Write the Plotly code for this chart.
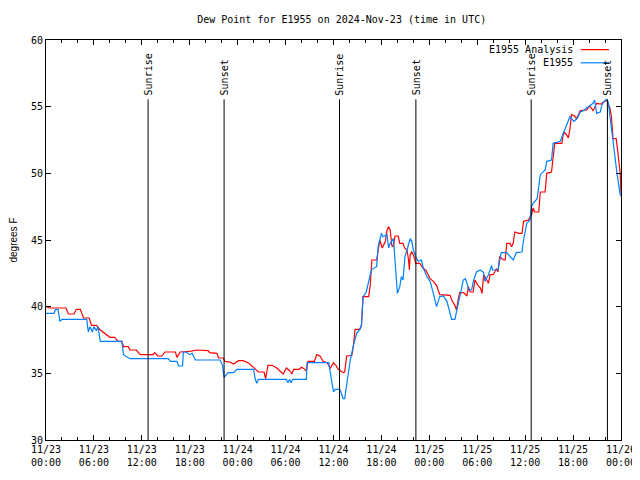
import pandas as pd
import plotly.graph_objects as go

BASE = pd.Timestamp("2024-11-23 00:00")

# Analysis series (hours since 11/23 00:00 UTC, dew point F)
analysis_hours = [0.0, 0.5, 1.5, 2.5, 2.8, 3.5, 3.8, 4.3, 4.7, 5.4, 5.7, 6.3, 6.8, 7.3, 7.6, 8.0, 8.6, 9.0, 9.5, 9.7,
                  10.3, 10.5, 11.3, 11.8, 13.4, 13.6, 14.0, 14.5, 14.9, 16.2, 16.4, 16.8, 18.0, 18.9, 20.3, 20.5,
                  21.4, 21.6, 22.2, 22.4, 23.0, 23.5, 24.1, 24.7, 25.4, 26.0, 26.6, 27.3, 27.5, 27.8, 28.3, 28.9,
                  29.7, 30.1, 30.5, 30.8, 31.0, 31.7, 32.0, 32.3, 32.6, 32.8, 33.6, 33.9, 34.3, 34.7, 35.2, 35.6,
                  36.0, 36.3, 36.6, 37.2, 37.4, 37.65, 38.3, 38.5, 38.7, 39.3, 39.5, 39.7, 40.4, 40.6, 40.8, 41.4,
                  41.6, 41.8, 42.1, 42.5, 42.7, 42.9, 43.1, 43.3, 43.5, 43.7, 44.1, 44.3, 44.7, 44.9, 45.2, 45.4,
                  45.5, 45.6, 45.8, 46.0, 46.3, 46.8, 47.2, 47.6, 48.1, 48.5, 48.9, 49.3, 50.6, 50.8, 51.2, 51.4,
                  51.6, 51.8, 52.3, 52.7, 52.9, 53.1, 53.5, 53.7, 54.1, 54.4, 54.6, 54.8, 55.2, 55.4, 55.6, 56.0,
                  56.4, 56.6, 56.8, 57.3, 57.5, 57.7, 58.1, 58.3, 58.5, 58.7, 59.2, 59.6, 59.8, 60.4, 60.6, 60.8,
                  61.0, 61.2, 61.7, 61.9, 62.5, 62.7, 63.3, 63.5, 63.7, 64.6, 64.8, 65.2, 65.4, 65.6, 65.8, 66.2,
                  66.4, 66.6, 66.9, 67.7, 68.1, 68.5, 68.95, 69.5, 69.9, 70.2, 70.6, 70.8, 71.0, 71.4, 71.6, 71.9,
                  72.0]
analysis_values = [40.0, 39.9, 39.9, 39.9, 39.45, 39.45, 39.8, 39.8, 39.15, 39.15, 38.6, 38.6, 38.25, 38.0, 37.9, 37.7,
                   37.7, 37.4, 37.4, 37.0, 37.0, 36.75, 36.75, 36.4, 36.4, 36.55, 36.3, 36.3, 36.6, 36.6, 36.2, 36.6,
                   36.65, 36.75, 36.7, 36.55, 36.5, 36.15, 36.15, 35.9, 35.85, 35.7, 35.95, 35.95, 35.75, 35.4, 35.1,
                   35.1, 34.6, 35.6, 35.6, 35.4, 34.95, 35.4, 35.2, 34.95, 35.3, 35.3, 35.45, 35.35, 35.2, 35.9, 35.9,
                   36.4, 36.3, 35.9, 35.8, 35.4, 35.8, 35.6, 35.3, 35.05, 35.1, 36.3, 36.35, 37.1, 38.3, 38.3, 38.6,
                   40.75, 40.75, 41.6, 43.5, 43.5, 44.4, 45.0, 44.4, 44.9, 45.75, 46.0, 45.75, 44.6, 44.5, 45.3, 45.3,
                   44.75, 44.75, 44.4, 44.25, 43.5, 42.75, 43.9, 44.1, 43.9, 43.25, 43.25, 42.9, 42.7, 42.1, 41.9,
                   41.6, 40.9, 40.85, 40.5, 40.1, 39.75, 40.5, 41.05, 41.05, 40.8, 41.5, 41.1, 41.1, 42.0, 41.6, 41.4,
                   41.0, 42.4, 42.0, 41.75, 42.4, 42.4, 42.85, 42.6, 43.75, 43.5, 43.5, 44.75, 44.75, 44.5, 44.75,
                   45.6, 45.5, 45.5, 46.4, 46.5, 46.7, 46.9, 47.4, 47.1, 47.1, 48.6, 48.6, 50.0, 50.1, 51.25, 52.25,
                   52.25, 53.1, 52.9, 52.65, 53.3, 54.4, 54.3, 54.1, 54.3, 54.7, 54.75, 55.05, 54.7, 55.25, 55.2,
                   55.4, 55.5, 54.9, 54.25, 52.6, 52.6, 51.6, 50.0, 48.5]

# Observed series
obs_hours = [0.0, 1.0, 1.2, 1.5, 1.75, 2.0, 5.1, 5.3, 5.5, 5.8, 6.0, 6.3, 6.5, 6.8, 9.5, 9.7, 10.5, 15.3, 15.6, 16.4,
             16.6, 17.1, 17.2, 17.5, 18.0, 18.3, 18.7, 21.8, 22.1, 22.3, 22.8, 23.5, 23.9, 26.0, 26.2, 26.4, 26.6,
             30.1, 30.3, 30.5, 30.7, 30.9, 32.6, 32.7, 35.4, 35.6, 36.0, 36.2, 36.8, 37.1, 37.2, 37.4, 37.65, 38.1,
             38.5, 38.9, 39.3, 39.5, 39.7, 40.1, 40.6, 40.8, 41.4, 41.6, 42.0, 42.2, 42.7, 42.9, 43.1, 43.5, 43.7,
             43.9, 44.0, 44.3, 44.5, 44.7, 44.95, 45.2, 45.6, 45.8, 46.0, 46.3, 46.6, 47.0, 47.25, 47.7, 48.1, 48.5,
             48.9, 49.3, 49.75, 50.2, 50.6, 50.8, 51.2, 51.4, 51.85, 52.25, 52.5, 52.7, 52.9, 53.3, 53.5, 53.9,
             54.35, 54.76, 54.97, 55.4, 55.8, 55.9, 56.6, 56.8, 57.0, 57.7, 57.9, 58.5, 58.9, 59.6, 59.8, 60.2,
             60.6, 60.8, 61.0, 61.5, 61.7, 61.9, 62.5, 62.7, 63.3, 63.5, 64.4, 64.8, 65.2, 65.6, 66.1, 66.5, 66.9,
             67.3, 67.7, 68.5, 68.7, 68.95, 69.4, 69.6, 69.8, 70.2, 70.4, 70.8, 71.2, 71.5, 71.9, 72.0]
obs_values = [39.5, 39.5, 39.8, 39.8, 38.9, 39.05, 39.05, 38.1, 38.5, 38.1, 38.5, 38.2, 38.5, 37.4, 37.4, 36.4, 36.1,
              36.1, 35.9, 35.9, 35.55, 35.55, 36.6, 36.6, 36.4, 36.5, 36.0, 36.0, 35.6, 34.7, 35.05, 35.05, 35.3,
              35.3, 34.55, 34.25, 34.55, 34.55, 34.3, 34.55, 34.3, 34.55, 34.55, 35.8, 35.8, 35.1, 33.6, 33.8, 33.8,
              33.3, 33.1, 33.1, 34.1, 36.0, 37.1, 38.0, 38.3, 38.6, 40.75, 41.1, 42.4, 42.8, 43.0, 44.55, 45.5,
              45.25, 45.4, 44.4, 44.75, 45.1, 43.5, 42.0, 41.0, 41.5, 42.25, 42.0, 43.75, 44.25, 45.1, 44.9, 44.25,
              43.75, 43.4, 43.5, 42.9, 42.25, 41.9, 41.0, 40.0, 40.75, 40.8, 40.4, 39.5, 39.05, 39.05, 39.6, 40.9,
              42.0, 42.1, 41.8, 41.25, 41.25, 41.9, 42.6, 42.75, 42.6, 41.9, 42.4, 43.1, 42.75, 42.75, 43.6, 44.05,
              44.05, 43.9, 43.5, 44.05, 44.1, 45.0, 46.25, 46.5, 47.5, 47.75, 48.1, 49.0, 49.9, 50.25, 50.9, 51.0,
              52.25, 52.4, 53.0, 53.75, 54.25, 53.9, 54.1, 54.6, 54.7, 54.9, 55.25, 55.5, 54.5, 54.6, 55.1, 55.35,
              55.55, 55.35, 53.25, 51.25, 50.0, 48.4, 48.3]

sun_events = ["Sunrise", "Sunset", "Sunrise", "Sunset", "Sunrise", "Sunset"]
sun_times = ["2024-11-23 12:47", "2024-11-23 22:18", "2024-11-24 12:45",
             "2024-11-24 22:19", "2024-11-25 12:45", "2024-11-25 22:18"]

legend_names = ["E1955 Analysis", "E1955"]
colors = ["#ff0000", "#0080ff"]

def to_time(hours):
    return BASE + pd.to_timedelta(hours, unit="h")

MONO = "DejaVu Sans Mono"

fig = go.Figure()
fig.add_trace(go.Scatter(x=to_time(analysis_hours), y=analysis_values, mode="lines",
                         line=dict(color=colors[0], width=1.2), name=legend_names[0]))
fig.add_trace(go.Scatter(x=to_time(obs_hours), y=obs_values, mode="lines",
                         line=dict(color=colors[1], width=1.2), name=legend_names[1]))

for ev, t in zip(sun_events, sun_times):
    fig.add_shape(type="line", xref="x", yref="y", x0=t, x1=t, y0=30, y1=55.55,
                  line=dict(color="black", width=1))
    fig.add_annotation(x=t, y=55.7, xref="x", yref="y", text=ev, textangle=-90,
                       showarrow=False, xanchor="center", yanchor="bottom",
                       font=dict(family=MONO, size=10, color="black"))

# manual legend (text left of sample, like the reference)
leg_y = [0.976, 0.943]
for name, col, yy in zip(legend_names, colors, leg_y):
    fig.add_annotation(x=0.92, y=yy, xref="paper", yref="paper", text=name, showarrow=False,
                       xanchor="right", yanchor="middle", font=dict(family=MONO, size=10, color="black"))
    fig.add_shape(type="line", xref="paper", yref="paper", x0=0.93, x1=0.979, y0=yy, y1=yy,
                  line=dict(color=col, width=1.2))

# the page body adds an 8px offset, so the figure is 8px smaller with matching margins
fig.update_layout(
    width=632, height=472,
    margin=dict(l=38, r=19, t=32, b=40, autoexpand=False),
    paper_bgcolor="white", plot_bgcolor="white",
    showlegend=False,
    title=dict(text="Dew Point for E1955 on 2024-Nov-23 (time in UTC)", x=0.528, xanchor="center",
               y=0.975, yanchor="middle", font=dict(family=MONO, size=10, color="black")),
    font=dict(family=MONO, size=10, color="black"),
)
fig.update_xaxes(
    range=["2024-11-23 00:00", "2024-11-26 00:00"], type="date",
    tick0="2024-11-23 00:00", dtick=6 * 3600 * 1000, tickformat="%m/%d<br>%H:%M",
    ticks="inside", ticklen=5, tickcolor="black", showline=True, linecolor="black", linewidth=1,
    mirror="ticks", showgrid=False, zeroline=False,
    minor=dict(dtick=2 * 3600 * 1000, ticks="inside", ticklen=3, tickcolor="black", showgrid=False),
    tickfont=dict(family=MONO, size=10, color="black"),
)
fig.update_yaxes(
    range=[30, 60], dtick=5, ticks="inside", ticklen=5, tickcolor="black",
    showline=True, linecolor="black", linewidth=1, mirror="ticks", showgrid=False, zeroline=False,
    title=dict(text="degrees F", font=dict(family="Liberation Sans", size=10, color="black"), standoff=16),
    tickfont=dict(family=MONO, size=10, color="black"),
)

fig.write_html("out.html")
